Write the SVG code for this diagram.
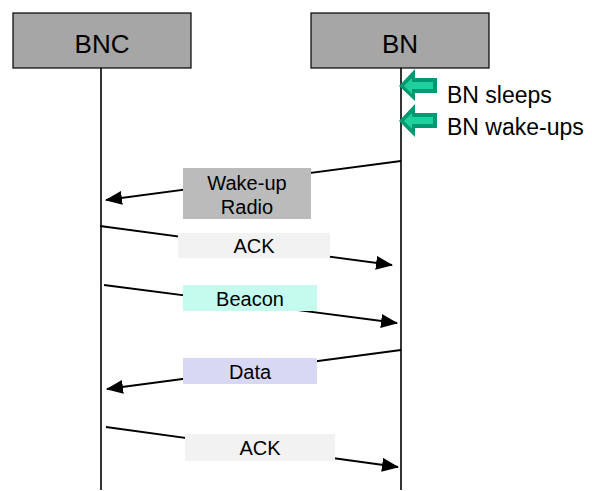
<svg xmlns="http://www.w3.org/2000/svg" width="592" height="491" viewBox="0 0 592 491">
<style>
.hdr{fill:#a6a6a6;stroke:#000;stroke-width:1.2}
.life{stroke:#000;stroke-width:1.6;fill:none}
.msg{stroke:#000;stroke-width:1.8;fill:none;marker-end:url(#ah)}
.t{font-family:"Liberation Sans",Arial,sans-serif;fill:#000}
.m{font-size:20px;text-anchor:middle}
.ga{fill:#009a72}
.gi{fill:#1fcf9c}
</style>
<defs>
<marker id="ah" markerWidth="17" markerHeight="14" refX="16" refY="7" orient="auto" markerUnits="userSpaceOnUse">
<path d="M0,0 L17,7 L0,14 Z" fill="#000"/>
</marker>
</defs>
<g id="node-bnc">
<rect class="hdr" x="13" y="13" width="178" height="55"/>
<text class="t" x="102" y="53" font-size="26" text-anchor="middle">BNC</text>
</g>
<g id="node-bn">
<rect class="hdr" x="311" y="13" width="178" height="55"/>
<text class="t" x="400" y="53" font-size="26" text-anchor="middle">BN</text>
</g>
<g id="lifelines">
<line class="life" x1="101" y1="68" x2="101" y2="490"/>
<line class="life" x1="401" y1="68" x2="401" y2="490"/>
</g>
<g id="bn-sleeps">
<polygon class="ga" points="399,86 415,69 415,78 437,78 437,93 415,93 415,101"/>
<polygon class="gi" points="404,86 412,78 412,82 433,82 433,89 412,89 412,94"/>
<text class="t" x="447" y="103" font-size="23">BN sleeps</text>
</g>
<g id="bn-wakeups">
<polygon class="ga" points="399,121 415,104 415,113 437,113 437,128 415,128 415,137"/>
<polygon class="gi" points="404,121 412,113 412,117 433,117 433,124 412,124 412,129"/>
<text class="t" x="447" y="135" font-size="23">BN wake-ups</text>
</g>
<g id="connectors">
<line class="msg" x1="401" y1="161" x2="106" y2="200"/>
<line class="msg" x1="100" y1="226" x2="392" y2="265"/>
<line class="msg" x1="104" y1="285" x2="397" y2="323"/>
<line class="msg" x1="401" y1="350" x2="107" y2="389"/>
<line class="msg" x1="106" y1="427" x2="398" y2="467"/>
</g>
<g id="label-wakeup">
<rect x="183" y="168" width="128" height="51" fill="#bbbbbb"/>
<text class="t m" x="247" y="190">Wake-up</text>
<text class="t m" x="247" y="214">Radio</text>
</g>
<g id="label-ack1">
<rect x="178" y="233" width="152" height="25" fill="#f2f2f2"/>
<text class="t m" x="254" y="253">ACK</text>
</g>
<g id="label-beacon">
<rect x="183" y="285" width="134" height="26" fill="#c4fbee"/>
<text class="t m" x="250" y="306">Beacon</text>
</g>
<g id="label-data">
<rect x="183" y="358" width="134" height="26" fill="#d8d8f5"/>
<text class="t m" x="250" y="379">Data</text>
</g>
<g id="label-ack2">
<rect x="185" y="434" width="150" height="27" fill="#f2f2f2"/>
<text class="t m" x="260" y="455">ACK</text>
</g>
</svg>
